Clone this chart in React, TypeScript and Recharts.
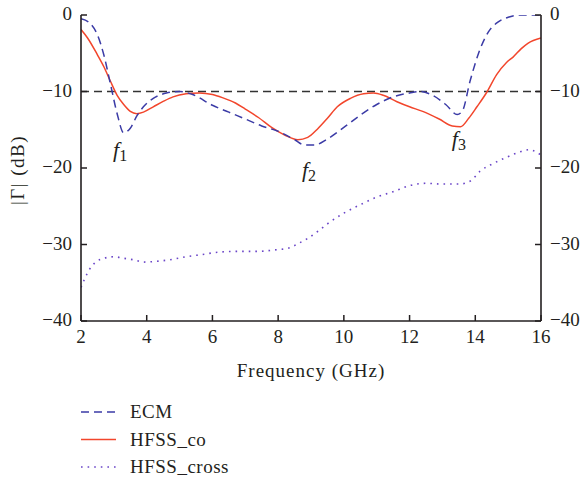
import React from 'react';
import {
  LineChart,
  Line,
  XAxis,
  YAxis,
  ReferenceLine,
  ReferenceDot,
  Legend,
} from 'recharts';

// ---------- data ----------
const ecmFreq = [2.0, 2.3, 2.5, 2.7, 2.9, 3.1, 3.3, 3.5, 3.7, 3.9, 4.2, 4.6, 5.0, 5.4, 6.0, 6.5, 7.0, 7.5, 8.0, 8.5, 8.8, 9.1, 9.5, 10.0, 10.5, 11.0, 11.5, 12.0, 12.3, 12.7, 13.1, 13.45, 13.6, 13.85, 14.1, 14.4, 14.7, 15.0, 15.4, 16.0];
const ecmDb = [-0.5, -1.2, -2.6, -5.3, -9.1, -12.9, -15.4, -14.8, -13.2, -12.0, -10.9, -10.2, -10.0, -10.4, -11.8, -12.7, -13.6, -14.5, -15.2, -16.3, -17.0, -17.0, -16.2, -14.7, -13.1, -11.7, -10.7, -10.2, -10.0, -10.5, -11.7, -13.0, -12.6, -8.5, -5.0, -2.2, -0.9, -0.3, 0, 0];

const coFreq = [2.0, 2.2, 2.5, 2.7, 2.9, 3.1, 3.3, 3.5, 3.7, 3.9, 4.2, 4.5, 4.8, 5.2, 5.6, 6.0, 6.3, 6.7, 7.0, 7.4, 7.8, 8.2, 8.6, 8.9, 9.2, 9.5, 9.8, 10.2, 10.6, 10.9, 11.2, 11.6, 12.0, 12.4, 12.9, 13.3, 13.55, 13.8, 14.05, 14.35, 14.65, 14.95, 15.15, 15.4, 15.6, 16.0];
const coDb = [-1.9, -3.0, -5.2, -6.8, -8.7, -10.5, -11.7, -12.6, -12.9, -12.7, -12.0, -11.3, -10.7, -10.3, -10.2, -10.4, -10.8, -11.5, -12.3, -13.4, -14.7, -15.7, -16.3, -16.0, -14.9, -13.5, -12.0, -10.9, -10.3, -10.2, -10.5, -11.3, -12.0, -12.6, -13.6, -14.5, -14.6, -13.5, -12.0, -10.1, -7.8, -6.2, -5.5, -4.4, -3.7, -3.0];

const crossFreq = [2.0, 2.1, 2.25, 2.45, 2.7, 3.0, 3.3, 3.6, 3.9, 4.3, 4.7, 5.2, 5.7, 6.2, 6.8, 7.4, 7.9, 8.3, 8.6, 8.9, 9.2, 9.5, 10.0, 10.5, 11.0, 11.5, 12.0, 12.5, 13.0, 13.5, 13.85, 14.15, 14.55, 14.95, 15.35, 15.65, 15.85, 16.0];
const crossDb = [-35.6, -34.6, -33.3, -32.3, -31.8, -31.6, -31.8, -32.0, -32.3, -32.2, -32.0, -31.6, -31.3, -31.0, -30.9, -30.9, -30.7, -30.5, -29.9, -29.2, -28.3, -27.3, -25.9, -24.8, -23.8, -23.1, -22.3, -22.0, -22.1, -22.1, -21.7, -20.4, -19.4, -18.6, -17.9, -17.6, -17.9, -18.3];

const xTicks = [2, 4, 6, 8, 10, 12, 14, 16];
const yTicks = [-40, -30, -20, -10, 0];
const threshold = -10;

const annotations = [
  { sub: '1', freq: 3.19, db: -18.6 },
  { sub: '2', freq: 8.94, db: -21.2 },
  { sub: '3', freq: 13.5, db: -17.1 },
];

const seriesNames = ['ECM', 'HFSS_co', 'HFSS_cross'];

// ---------- styles ----------
const FONT = 'Liberation Serif, serif';
const TEXT = '#231f20';
const AXIS = '#231f20';
const styles: Record<string, { color: string; dash?: string; width: number }> = {
  ECM: { color: '#3b3ba6', dash: '8 5', width: 1.5 },
  HFSS_co: { color: '#f2462c', width: 1.5 },
  HFSS_cross: { color: '#6a45c8', dash: '1.6 5', width: 1.6 },
};

const toPoints = (f: number[], v: number[]) => f.map((x, i) => ({ f: x, v: v[i] }));
const ecmData = toPoints(ecmFreq, ecmDb);
const coData = toPoints(coFreq, coDb);
const crossData = toPoints(crossFreq, crossDb);

const fmt = (n: number) => (n < 0 ? '\u2212' + Math.abs(n) : String(n));

const TICK = 6;
const textStyle = { fontFamily: FONT };

const BottomTick = (props: any) => {
  const { x, y, payload } = props;
  return (
    <g>
      <line x1={x} y1={y} x2={x} y2={y - TICK} stroke={AXIS} strokeWidth={1.5} />
      <text x={x} y={y + 22} textAnchor="middle" style={textStyle} fontSize={19} fill={TEXT}>
        {fmt(payload.value)}
      </text>
    </g>
  );
};

const TopTick = (props: any) => {
  const { x, y } = props;
  return <line x1={x} y1={y} x2={x} y2={y + TICK} stroke={AXIS} strokeWidth={1.5} />;
};

const LeftTick = (props: any) => {
  const { x, y, payload } = props;
  return (
    <g>
      <line x1={x} y1={y} x2={x + TICK} y2={y} stroke={AXIS} strokeWidth={1.5} />
      <text x={x - 9} y={y + 5} textAnchor="end" style={textStyle} fontSize={19} fill={TEXT}>
        {fmt(payload.value)}
      </text>
    </g>
  );
};

const RightTick = (props: any) => {
  const { x, y, payload } = props;
  return (
    <g>
      <line x1={x} y1={y} x2={x - TICK} y2={y} stroke={AXIS} strokeWidth={1.5} />
      <text x={x + 9} y={y + 5} textAnchor="start" style={textStyle} fontSize={19} fill={TEXT}>
        {fmt(payload.value)}
      </text>
    </g>
  );
};

const YTitle = (props: any) => {
  const { viewBox } = props;
  const x = viewBox.x + 24;
  const y = viewBox.y + viewBox.height / 2 + 2;
  return (
    <text
      x={x}
      y={y}
      transform={`rotate(-90 ${x} ${y})`}
      textAnchor="middle"
      style={textStyle}
      fontSize={19}
      letterSpacing={1.5}
      fill={TEXT}
    >
      |Γ| (dB)
    </text>
  );
};

const XTitle = (props: any) => {
  const { viewBox } = props;
  return (
    <text
      x={viewBox.x + viewBox.width / 2}
      y={viewBox.y + 56}
      textAnchor="middle"
      style={textStyle}
      fontSize={19}
      letterSpacing={1}
      fill={TEXT}
    >
      Frequency (GHz)
    </text>
  );
};

const FLabel = (props: any) => {
  const { viewBox, sub } = props;
  const cx = viewBox.x + (viewBox.width || 0) / 2;
  const cy = viewBox.y + (viewBox.height || 0) / 2;
  return (
    <text x={cx} y={cy} textAnchor="middle" style={textStyle} fill={TEXT}>
      <tspan fontStyle="italic" fontSize={22}>f</tspan>
      <tspan fontSize={16} dy={4}>{sub}</tspan>
    </text>
  );
};

const LegendBox = () => (
  <svg width={260} height={86} style={{ display: 'block' }}>
    {seriesNames.map((name, i) => {
      const s = styles[name];
      const cy = 17 + i * 27.5;
      return (
        <g key={name}>
          <line x1={81} y1={cy} x2={116} y2={cy} stroke={s.color} strokeWidth={s.width} strokeDasharray={s.dash} />
          <text x={130} y={cy + 6} style={textStyle} fontSize={19} letterSpacing={0.5} fill={TEXT}>
            {name}
          </text>
        </g>
      );
    })}
  </svg>
);

export default function App() {
  return (
    <div style={{ position: 'absolute', left: 0, top: 0, width: 581, height: 481, background: '#fff' }}>
      <LineChart width={581} height={481} margin={{ top: 15, right: 0, bottom: 100, left: 0 }}>
        <XAxis
          xAxisId="bottom"
          dataKey="f"
          type="number"
          domain={[2, 16]}
          ticks={xTicks}
          allowDataOverflow
          height={60}
          tickLine={false}
          tickSize={0}
          tickMargin={0}
          tick={<BottomTick />}
          axisLine={{ stroke: AXIS, strokeWidth: 1.6 }}
          label={<XTitle />}
        />
        <XAxis
          xAxisId="top"
          orientation="top"
          dataKey="f"
          type="number"
          domain={[2, 16]}
          ticks={xTicks}
          allowDataOverflow
          height={0}
          tickLine={false}
          tickSize={0}
          tickMargin={0}
          tick={<TopTick />}
          axisLine={{ stroke: AXIS, strokeWidth: 1.6 }}
        />
        <YAxis
          yAxisId="left"
          type="number"
          domain={[-40, 0]}
          ticks={yTicks}
          allowDataOverflow
          width={81}
          tickLine={false}
          tickSize={0}
          tickMargin={0}
          tick={<LeftTick />}
          axisLine={{ stroke: AXIS, strokeWidth: 1.6 }}
          label={<YTitle />}
        />
        <YAxis
          yAxisId="right"
          orientation="right"
          type="number"
          domain={[-40, 0]}
          ticks={yTicks}
          allowDataOverflow
          width={40}
          tickLine={false}
          tickSize={0}
          tickMargin={0}
          tick={<RightTick />}
          axisLine={{ stroke: AXIS, strokeWidth: 1.6 }}
        />
        <ReferenceLine
          xAxisId="bottom"
          yAxisId="left"
          y={threshold}
          stroke="#333"
          strokeWidth={1.4}
          strokeDasharray="8 5"
        />
        <Line
          xAxisId="bottom"
          yAxisId="left"
          data={crossData}
          dataKey="v"
          name="HFSS_cross"
          type="monotone"
          stroke={styles.HFSS_cross.color}
          strokeWidth={styles.HFSS_cross.width}
          strokeDasharray={styles.HFSS_cross.dash}
          dot={false}
          activeDot={false}
          isAnimationActive={false}
        />
        <Line
          xAxisId="bottom"
          yAxisId="left"
          data={coData}
          dataKey="v"
          name="HFSS_co"
          type="monotone"
          stroke={styles.HFSS_co.color}
          strokeWidth={styles.HFSS_co.width}
          dot={false}
          activeDot={false}
          isAnimationActive={false}
        />
        <Line
          xAxisId="bottom"
          yAxisId="left"
          data={ecmData}
          dataKey="v"
          name="ECM"
          type="monotone"
          stroke={styles.ECM.color}
          strokeWidth={styles.ECM.width}
          strokeDasharray={styles.ECM.dash}
          dot={false}
          activeDot={false}
          isAnimationActive={false}
        />
        {annotations.map((a) => (
          <ReferenceDot
            key={a.sub}
            xAxisId="bottom"
            yAxisId="left"
            x={a.freq}
            y={a.db}
            r={0}
            fill="none"
            stroke="none"
            label={<FLabel sub={a.sub} />}
          />
        ))}
        <Legend
          layout="vertical"
          align="center"
          verticalAlign="middle"
          wrapperStyle={{ left: 0, top: 395, width: 260, height: 86 }}
          content={<LegendBox />}
        />
      </LineChart>
    </div>
  );
}
